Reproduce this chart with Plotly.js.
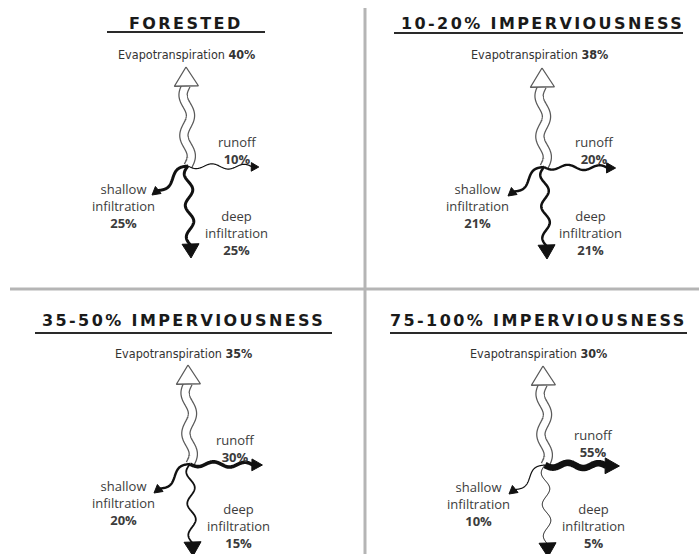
<!DOCTYPE html>
<html><head><meta charset="utf-8">
<script src="https://cdn.plot.ly/plotly-3.0.1.min.js"></script>
<style>html,body{margin:0;padding:0;background:#fff}</style>
</head><body><div id="chart" style="width:699px;height:554px"></div>
<script>
// ---- data ----
const panelTitles = ["FORESTED", "10-20% IMPERVIOUSNESS", "35-50% IMPERVIOUSNESS", "75-100% IMPERVIOUSNESS"];
const evapotranspiration = [40, 38, 35, 30];
const runoff = [10, 20, 30, 55];
const shallowInfiltration = [25, 21, 20, 10];
const deepInfiltration = [25, 21, 15, 5];

// ---- layout geometry (pixels) ----
const junction = [[188,166],[544,167],[190,464],[545,465]];
const titlePos = [[186,23],[542,23],[183,320],[538,320]];
const underline = [[107,265,32],[394,683,33],[35,332,333],[390,687,333]];
const etTextPos = [[186,54],[539,54],[183,353],[538,353]];
const runoffLbl = [[237,150],[594,150],[235,448],[593,443]];
const shallowLbl = [[123,206],[477,206],[123,503],[478,504]];
const deepLbl = [[236,233],[590,233],[238,526],[593,526]];

function wavePts(x0,y0,x1,y1,amp,k){
  const dx=x1-x0, dy=y1-y0, len=Math.hypot(dx,dy);
  const nx=-dy/len, ny=dx/len, xs=[], ys=[];
  for(let i=0;i<=120;i++){const t=i/120; const o=amp*Math.sin(2*Math.PI*k*t);
    xs.push(x0+dx*t+nx*o); ys.push(y0+dy*t+ny*o);}
  return [xs,ys];
}
function headPts(x0,y0,tx,ty,L,hw){
  const dx=tx-x0, dy=ty-y0, len=Math.hypot(dx,dy), ux=dx/len, uy=dy/len;
  const bx=tx-ux*L, by=ty-uy*L, px=-uy, py=ux;
  return [[tx,bx+px*hw,bx-px*hw,tx],[ty,by+py*hw,by-py*hw,ty]];
}
function shaftEnd(x0,y0,tx,ty,L){
  const dx=tx-x0, dy=ty-y0, len=Math.hypot(dx,dy);
  return [tx-dx/len*(L-1), ty-dy/len*(L-1)];
}

const traces=[];
function lineTrace(p,color,width){traces.push({x:p[0],y:p[1],mode:'lines',line:{color:color,width:width,simplify:false},hoverinfo:'skip',showlegend:false});}
function triTrace(p,fill,lineColor,lw){traces.push({x:p[0],y:p[1],mode:'lines',fill:'toself',fillcolor:fill,line:{color:lineColor,width:lw,simplify:false},hoverinfo:'skip',showlegend:false});}

function flowArrow(j,rel,pct,amp,k,L,hw){
  const [x0,y0]=j, tx=x0+rel[0], ty=y0+rel[1];
  const w=Math.max(1,pct*0.12);
  const e=shaftEnd(x0,y0,tx,ty,L);
  lineTrace(wavePts(x0,y0,e[0],e[1],amp,k),'#111',w);
  triTrace(headPts(x0,y0,tx,ty,L,hw),'#111','#111',1);
}

const annotations=[], shapes=[];
const lblFont={family:'"Open Sans", "DejaVu Sans", sans-serif', size:13, color:'#3c3c3c'};
function ann(x,y,text,font){annotations.push({x:x,y:y,xref:'x',yref:'y',text:text,showarrow:false,font:font,xanchor:'center',yanchor:'middle',align:'center'});}

for(let i=0;i<4;i++){
  const j=junction[i];
  // evapotranspiration hollow arrow
  const etTip=[j[0]-2,j[1]-99], etL=19;
  const etE=shaftEnd(j[0],j[1],etTip[0],etTip[1],etL);
  const etP=wavePts(j[0],j[1],etE[0],etE[1],3.5,2);
  lineTrace(etP,'#5a5a5a',9.5);
  lineTrace(etP,'#ffffff',7);
  triTrace(headPts(j[0],j[1],etTip[0],etTip[1],etL,12),'#ffffff','#5a5a5a',1.3);
  // runoff
  flowArrow(j,[70+runoff[i]*0.08,1],runoff[i],2.5,2,6+runoff[i]*0.15,3.5+runoff[i]*0.08);
  // shallow infiltration
  flowArrow(j,[-36,29],shallowInfiltration[i],4,1,8,4.5);
  // deep infiltration
  flowArrow(j,[3,92],deepInfiltration[i],4,2.5,14,8.5);

  // texts
  ann(titlePos[i][0],titlePos[i][1],'<span style="letter-spacing:2.4px">'+panelTitles[i]+'</span>',
      {family:'"DejaVu Sans", sans-serif',size:16,color:'#1a1a1a',weight:'bold'});
  shapes.push({type:'line',xref:'x',yref:'y',x0:underline[i][0],x1:underline[i][1],y0:underline[i][2],y1:underline[i][2],line:{color:'#2a2a2a',width:2}});
  ann(etTextPos[i][0],etTextPos[i][1],'Evapotranspiration <b>'+evapotranspiration[i]+'%</b>',
      {family:'"Liberation Sans Narrow", "DejaVu Sans Condensed", sans-serif',size:12.5,color:'#333'});
  ann(runoffLbl[i][0],runoffLbl[i][1],'runoff<br><b>'+runoff[i]+'%</b>',lblFont);
  ann(shallowLbl[i][0],shallowLbl[i][1],'shallow<br>infiltration<br><b>'+shallowInfiltration[i]+'%</b>',lblFont);
  ann(deepLbl[i][0],deepLbl[i][1],'deep<br>infiltration<br><b>'+deepInfiltration[i]+'%</b>',lblFont);
}
// separators
shapes.push({type:'line',xref:'x',yref:'y',x0:365,x1:365,y0:8,y1:554,line:{color:'#b5b5b5',width:3},layer:'below'});
shapes.push({type:'line',xref:'x',yref:'y',x0:10,x1:699,y0:289,y1:289,line:{color:'#b5b5b5',width:3},layer:'below'});

const layout={width:699,height:554,margin:{l:0,r:0,t:0,b:0},paper_bgcolor:'#fff',plot_bgcolor:'#fff',
  xaxis:{range:[0,699],visible:false,fixedrange:true},
  yaxis:{range:[554,0],visible:false,fixedrange:true},
  showlegend:false,annotations:annotations,shapes:shapes};
Plotly.newPlot('chart',traces,layout,{staticPlot:true,displayModeBar:false});
</script></body></html>
